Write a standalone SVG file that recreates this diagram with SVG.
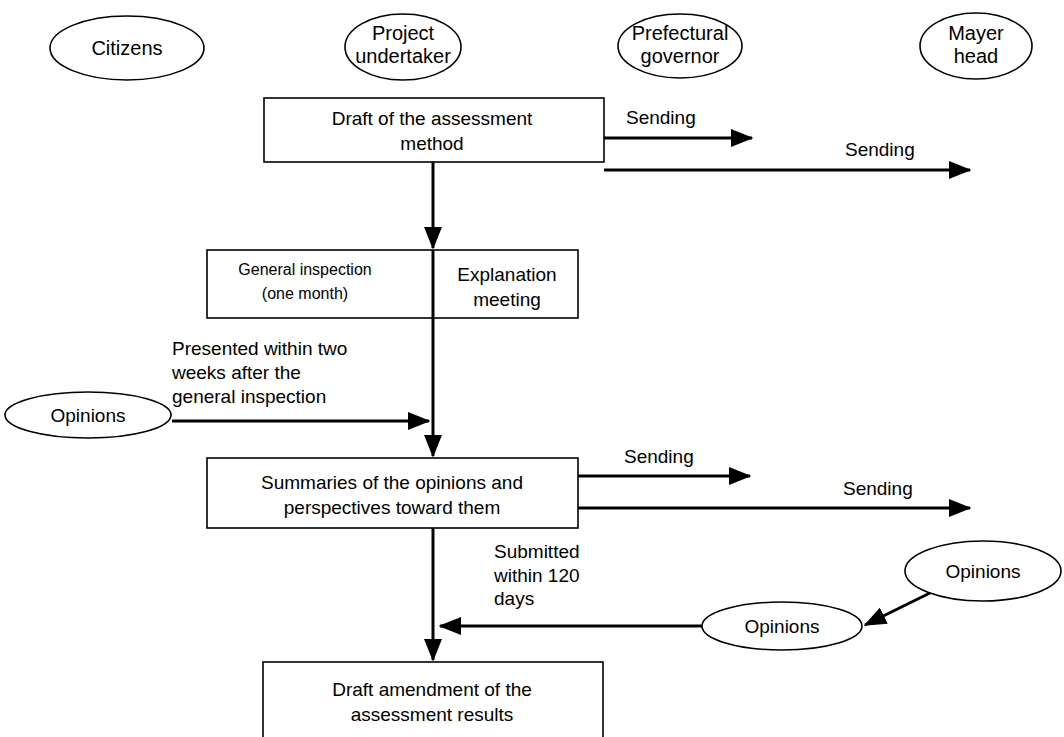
<svg xmlns="http://www.w3.org/2000/svg" width="1064" height="737" viewBox="0 0 1064 737">
<style>
.n{fill:#fff;stroke:#000;stroke-width:1.6}
.t{font-family:"Liberation Sans",Arial,sans-serif;font-size:19px;fill:#000;text-anchor:middle}
.te{font-family:"Liberation Sans",Arial,sans-serif;font-size:20px;fill:#000;text-anchor:middle}
.ts{font-family:"Liberation Sans",Arial,sans-serif;font-size:16px;fill:#000;text-anchor:middle}
.l{font-family:"Liberation Sans",Arial,sans-serif;font-size:19px;fill:#000}
.c{fill:none;stroke:#000;stroke-width:3}
</style>
<defs>
<marker id="ah" markerWidth="7.5" markerHeight="6" refX="7" refY="3" orient="auto" markerUnits="strokeWidth">
<path d="M0,0 L7.5,3 L0,6 Z" fill="#000"/>
</marker>
</defs>
<rect width="1064" height="737" fill="#fff"/>
<g id="citizens"><ellipse class="n" cx="127" cy="48" rx="77" ry="32"/><text class="te" x="127" y="55">Citizens</text></g>
<g id="undertaker"><ellipse class="n" cx="403" cy="47" rx="58" ry="33"/><text class="te" x="403" y="40">Project</text><text class="te" x="403" y="63">undertaker</text></g>
<g id="governor"><ellipse class="n" cx="680" cy="46" rx="62" ry="32"/><text class="te" x="680" y="40">Prefectural</text><text class="te" x="680" y="63">governor</text></g>
<g id="mayer"><ellipse class="n" cx="976" cy="46" rx="56" ry="33"/><text class="te" x="976" y="40">Mayer</text><text class="te" x="976" y="63">head</text></g>

<g id="connectors">
<line class="c" x1="604" y1="138" x2="752" y2="138" marker-end="url(#ah)"/>
<line class="c" x1="604" y1="170" x2="970" y2="170" marker-end="url(#ah)"/>
<line class="c" x1="433" y1="162" x2="433" y2="248" marker-end="url(#ah)"/>
<line class="c" x1="433" y1="318" x2="433" y2="456" marker-end="url(#ah)"/>
<line class="c" x1="172" y1="421" x2="429" y2="421" marker-end="url(#ah)"/>
<line class="c" x1="578" y1="476" x2="750" y2="476" marker-end="url(#ah)"/>
<line class="c" x1="578" y1="508" x2="970" y2="508" marker-end="url(#ah)"/>
<line class="c" x1="433" y1="528" x2="433" y2="660" marker-end="url(#ah)"/>
<line class="c" x1="702" y1="626" x2="440" y2="626" marker-end="url(#ah)"/>
<line class="c" x1="936" y1="590" x2="865" y2="625" marker-end="url(#ah)"/>
<text class="l" x="626" y="124">Sending</text>
<text class="l" x="845" y="156">Sending</text>
<text class="l" x="172" y="355">Presented within two</text>
<text class="l" x="172" y="379">weeks after the</text>
<text class="l" x="172" y="403">general inspection</text>
<text class="l" x="624" y="463">Sending</text>
<text class="l" x="843" y="495">Sending</text>
<text class="l" x="494" y="558">Submitted</text>
<text class="l" x="494" y="582">within 120</text>
<text class="l" x="494" y="605">days</text>
</g>

<g id="draft-method"><rect class="n" x="264" y="98" width="340" height="64"/><text class="t" x="432" y="125">Draft of the assessment</text><text class="t" x="432" y="150">method</text></g>
<g id="inspection"><rect class="n" x="207" y="250" width="371" height="68"/><line x1="433" y1="250" x2="433" y2="318" stroke="#000" stroke-width="3"/><text class="ts" x="305" y="275">General inspection</text><text class="ts" x="305" y="299">(one month)</text><text class="t" x="507" y="281">Explanation</text><text class="t" x="507" y="306">meeting</text></g>
<g id="opinions-left"><ellipse class="n" cx="88" cy="415" rx="83" ry="23"/><text class="t" x="88" y="422">Opinions</text></g>
<g id="summaries"><rect class="n" x="207" y="458" width="371" height="70"/><text class="t" x="392" y="489">Summaries of the opinions and</text><text class="t" x="392" y="514">perspectives toward them</text></g>
<g id="opinions-mid"><ellipse class="n" cx="782" cy="626" rx="80" ry="24"/><text class="t" x="782" y="633">Opinions</text></g>
<g id="opinions-right"><ellipse class="n" cx="983" cy="571" rx="78" ry="30"/><text class="t" x="983" y="578">Opinions</text></g>
<g id="amendment"><rect class="n" x="263" y="662" width="340" height="80"/><text class="t" x="432" y="696">Draft amendment of the</text><text class="t" x="432" y="721">assessment results</text></g>
</svg>
